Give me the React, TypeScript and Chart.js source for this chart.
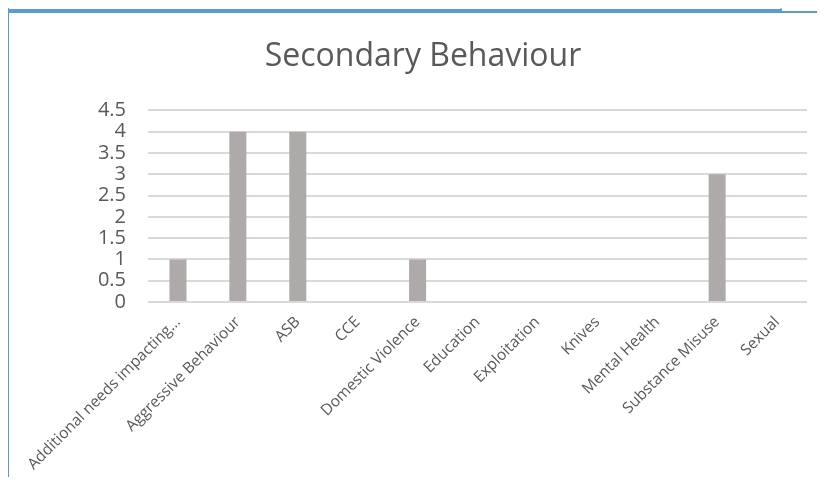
import React, { useEffect, useRef } from "react";
import { Chart, registerables } from "chart.js";

Chart.register(...registerables);

const categories = [
  "Additional needs impacting…",
  "Aggressive Behaviour",
  "ASB",
  "CCE",
  "Domestic Violence",
  "Education",
  "Exploitation",
  "Knives",
  "Mental Health",
  "Substance Misuse",
  "Sexual",
];
const values = [1, 4, 4, 0, 1, 0, 0, 0, 0, 3, 0];
const yMin = 0;
const yMax = 4.5;
const yStep = 0.5;
const titleText = "Secondary Behaviour";

const BLUE = "#5B9BD5";

export default function App() {
  const ref = useRef<HTMLCanvasElement | null>(null);

  useEffect(() => {
    if (!ref.current) return;
    const chart = new Chart(ref.current, {
      type: "bar",
      data: {
        labels: categories,
        datasets: [
          {
            data: values,
            backgroundColor: "#AEAAAA",
            borderWidth: 0,
            barPercentage: 1,
            categoryPercentage: 0.284,
          },
        ],
      },
      options: {
        responsive: false,
        animation: false,
        layout: { padding: { left: 29, right: 29, top: 0, bottom: 0 } },
        plugins: {
          legend: { display: false },
          tooltip: { enabled: false },
          title: {
            display: true,
            text: titleText,
            color: "#595959",
            font: { family: "'Open Sans'", size: 32, weight: "normal" },
            padding: { top: 24, bottom: 34 },
          },
        },
        scales: {
          x: {
            grid: { display: false, drawTicks: false },
            border: { display: false },
            afterFit: (s: any) => {
              s.height = 183;
            },
            ticks: {
              autoSkip: false,
              minRotation: 45,
              maxRotation: 45,
              color: "#595959",
              font: { family: "'Open Sans'", size: 15.5 },
              padding: 11,
            },
          },
          y: {
            min: yMin,
            max: yMax,
            grid: { color: "#D9D9D9", lineWidth: 2, drawTicks: false },
            border: { display: false },
            afterFit: (s: any) => {
              s.width = 109;
            },
            ticks: {
              autoSkip: false,
              stepSize: yStep,
              color: "#595959",
              font: { family: "'Open Sans'", size: 20 },
              padding: 22,
              callback: (v: any) => String(v),
            },
          },
        },
      },
    });
    return () => chart.destroy();
  }, []);

  return (
    <div
      style={{
        position: "relative",
        width: 825,
        height: 485,
        margin: -8,
        overflow: "hidden",
        background: "#ffffff",
      }}
    >
      <div style={{ position: "absolute", left: 780, top: 0, width: 2, height: 10, background: "#9DC3E6" }} />
      <div style={{ position: "absolute", left: 7, top: 0, width: 775, height: 8, borderBottom: "1px solid #9DC3E6", boxSizing: "border-box" }} />
      <div style={{ position: "absolute", left: 7, top: 9, width: 775, height: 4, background: BLUE }} />
      <div style={{ position: "absolute", left: 782, top: 11, width: 43, height: 2, background: BLUE }} />
      <div style={{ position: "absolute", left: 7, top: 0, width: 2, height: 485, background: BLUE }} />
      <div style={{ position: "absolute", left: 10, top: 14 }}>
        <canvas ref={ref} width={826} height={471} />
      </div>
    </div>
  );
}
